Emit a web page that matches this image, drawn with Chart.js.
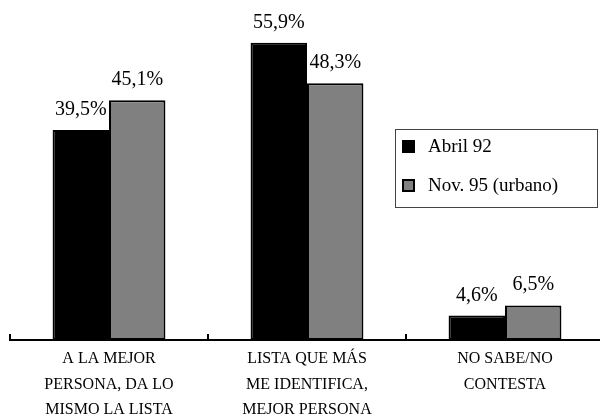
<!DOCTYPE html>
<html>
<head>
<meta charset="utf-8">
<script src="https://cdn.jsdelivr.net/npm/chart.js@4.4.1/dist/chart.umd.min.js"></script>
<style>
  html, body { margin: 0; padding: 0; background: #fff; overflow: hidden; }
  #wrap { position: relative; width: 606px; height: 418px; }
</style>
</head>
<body>
<div id="wrap"><canvas id="c"></canvas></div>
<script>
// Categories (multi-line labels) and the two survey waves
const categories = [
  ['A LA MEJOR', 'PERSONA, DA LO', 'MISMO LA LISTA'],
  ['LISTA QUE MÁS', 'ME IDENTIFICA,', 'MEJOR PERSONA'],
  ['NO SABE/NO', 'CONTESTA']
];
const seriesNames = ['Abril 92', 'Nov. 95 (urbano)'];
const abril92 = [39.5, 55.9, 4.6];
const nov95 = [45.1, 48.3, 6.5];

const SERIF = "'Liberation Serif', 'Times New Roman', serif";
const fmt = v => v.toFixed(1).replace('.', ',') + '%';

// Value labels above each bar
const valueLabels = {
  id: 'valueLabels',
  afterDatasetsDraw(chart) {
    const ctx = chart.ctx;
    ctx.save();
    ctx.font = '20px ' + SERIF;
    ctx.fillStyle = '#000';
    ctx.textAlign = 'center';
    ctx.textBaseline = 'alphabetic';
    chart.data.datasets.forEach((ds, di) => {
      const meta = chart.getDatasetMeta(di);
      meta.data.forEach((bar, i) => {
        ctx.fillText(fmt(ds.data[i]), bar.x, bar.y - 15);
      });
    });
    ctx.restore();
  }
};

// Short upward tick marks at category boundaries on the baseline
const innerTicks = {
  id: 'innerTicks',
  afterDraw(chart) {
    const x = chart.scales.x;
    const ctx = chart.ctx;
    const n = chart.data.labels.length;
    const step = (x.right - x.left) / n;
    const base = chart.chartArea.bottom;
    ctx.save();
    ctx.strokeStyle = '#000';
    ctx.lineWidth = 2;
    for (let i = 0; i <= n; i++) {
      const px = Math.round(x.left + i * step);
      ctx.beginPath();
      ctx.moveTo(px, base);
      ctx.lineTo(px, base - 6);
      ctx.stroke();
    }
    ctx.restore();
  }
};

// Boxed legend inside the plot
const boxLegend = {
  id: 'boxLegend',
  afterDraw(chart) {
    const ctx = chart.ctx;
    const bx = 395, by = 129, bw = 202, bh = 78;
    ctx.save();
    ctx.strokeStyle = '#444';
    ctx.lineWidth = 1;
    ctx.strokeRect(bx + 0.5, by + 0.5, bw, bh);
    ctx.font = '19px ' + SERIF;
    ctx.fillStyle = '#000';
    ctx.textBaseline = 'middle';
    chart.data.datasets.forEach((ds, i) => {
      const cy = by + 17 + i * 39;
      ctx.fillStyle = ds.backgroundColor;
      ctx.fillRect(bx + 7, cy - 6, 13, 13);
      ctx.strokeStyle = '#000';
      ctx.lineWidth = 2;
      ctx.strokeRect(bx + 8, cy - 5, 11, 11);
      ctx.fillStyle = '#000';
      ctx.fillText(ds.label, bx + 33, cy + 1);
    });
    ctx.restore();
  }
};

new Chart(document.getElementById('c'), {
  type: 'bar',
  data: {
    labels: categories,
    datasets: [
      { label: seriesNames[0], data: abril92, backgroundColor: '#000000' },
      { label: seriesNames[1], data: nov95, backgroundColor: '#808080' }
    ]
  },
  options: {
    responsive: true,
    maintainAspectRatio: false,
    animation: false,
    devicePixelRatio: 1,
    layout: { padding: { top: 21, left: 10, right: 2, bottom: 0 } },
    datasets: {
      bar: {
        borderColor: '#000',
        borderWidth: 2,
        borderSkipped: false,
        categoryPercentage: 0.57,
        barPercentage: 1.0
      }
    },
    plugins: {
      legend: { display: false },
      tooltip: { enabled: false }
    },
    scales: {
      y: { display: false, min: 0, max: 60 },
      x: {
        grid: { display: false, drawTicks: false },
        border: { display: true, color: '#000', width: 2 },
        ticks: {
          color: '#000',
          font: { family: SERIF, size: 16, lineHeight: 1.6 },
          padding: 6,
          maxRotation: 0,
          autoSkip: false
        },
        afterFit(scale) { scale.height = 78; }
      }
    }
  },
  plugins: [valueLabels, innerTicks, boxLegend]
});
</script>
</body>
</html>
